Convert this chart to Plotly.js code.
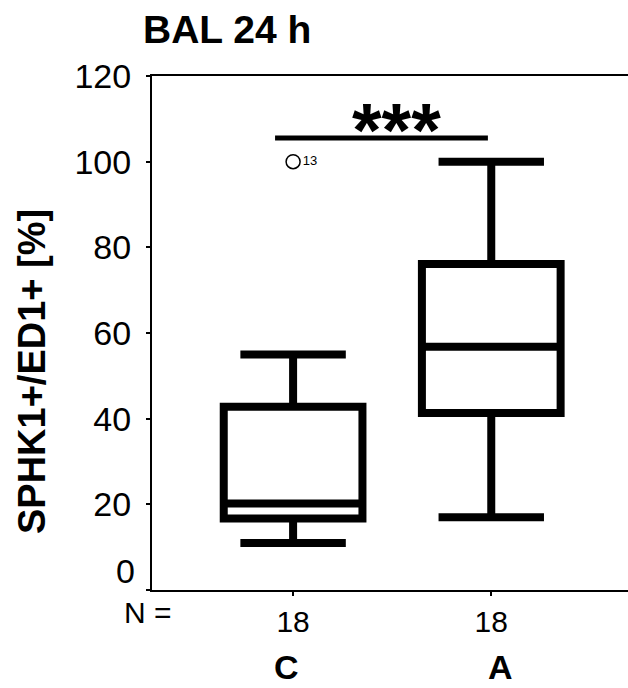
<!DOCTYPE html>
<html>
<head>
<meta charset="utf-8">
<script src="https://cdn.plot.ly/plotly-3.0.1.min.js"></script>
<style>
  html, body { margin: 0; padding: 0; background: #fff; }
  #chart { width: 628px; height: 688px; }
</style>
</head>
<body>
<div id="chart"></div>
<script>
// ---- data ----
const categories   = ['C', 'A'];
const nCounts      = ['18', '18'];
const lowerWhisker = [11, 17];
const q1           = [16.7, 41.3];
const medians      = [20.2, 56.8];
const q3           = [42.8, 76.1];
const upperWhisker = [55, 100];
const outlierCat   = ['C'];
const outlierVal   = [100];
const outlierLabel = ['13'];
const sigFrom      = ['C'];
const sigTo        = ['A'];
const sigLevel     = [105.5];
const sigText      = ['***'];
const yTicks       = [0, 20, 40, 60, 80, 100, 120];

// category -> numeric position on x axis
const pos = categories.map((c, i) => i);
const posOf = c => categories.indexOf(c);

const FONT = 'Liberation Sans, Arial, sans-serif';

const traces = [
  {
    type: 'box',
    x: pos,
    q1: q1,
    median: medians,
    q3: q3,
    lowerfence: lowerWhisker,
    upperfence: upperWhisker,
    width: 0.70,
    whiskerwidth: 0.76,
    fillcolor: '#ffffff',
    line: { color: '#000000', width: 8 },
    boxpoints: false,
    hoverinfo: 'skip',
    showlegend: false
  },
  {
    type: 'scatter',
    mode: 'markers+text',
    x: outlierCat.map(posOf),
    y: outlierVal,
    text: outlierLabel,
    textposition: 'middle right',
    textfont: { family: FONT, size: 13, color: '#000' },
    marker: { symbol: 'circle-open', size: 14, color: '#000', line: { width: 1.5, color: '#000' } },
    cliponaxis: false,
    showlegend: false,
    hoverinfo: 'skip'
  },
  {
    // significance bar drawn through the axes
    type: 'scatter',
    mode: 'lines',
    x: [posOf(sigFrom[0]) - 0.091, posOf(sigTo[0]) - 0.017],
    y: [sigLevel[0], sigLevel[0]],
    line: { color: '#000', width: 5 },
    showlegend: false,
    hoverinfo: 'skip'
  }
];

// the lowest tick label sits above the axis corner in the reference
const yTickText = yTicks.map(v => (v === yTicks[0] ? '' : String(v)));

const annotations = [
  {
    text: String(yTicks[0]),
    xref: 'paper', yref: 'y',
    x: -0.0315, y: yTicks[0],
    xanchor: 'right', yanchor: 'middle',
    yshift: 19,
    showarrow: false,
    font: { family: FONT, size: 34, color: '#000' }
  },
  {
    text: 'SPHK1+/ED1+ [%]',
    xref: 'paper', yref: 'paper',
    x: -0.2521, y: 0.424,
    xanchor: 'center', yanchor: 'middle',
    textangle: -90,
    showarrow: false,
    font: { family: FONT, size: 38, color: '#000', weight: 'bold' }
  },
  {
    text: 'N =',
    xref: 'paper', yref: 'paper',
    x: -0.008, y: -0.0437,
    xanchor: 'center', yanchor: 'middle',
    showarrow: false,
    font: { family: FONT, size: 30, color: '#000' }
  },
  {
    text: sigText[0],
    xref: 'x', yref: 'y',
    x: (posOf(sigFrom[0]) + posOf(sigTo[0])) / 2 + 0.024,
    y: sigLevel[0],
    xanchor: 'center', yanchor: 'bottom',
    yshift: -36,
    showarrow: false,
    font: { family: FONT, size: 76, color: '#000', weight: 'bold' }
  }
];
categories.forEach((c, i) => {
  annotations.push({
    text: c,
    xref: 'x', yref: 'paper',
    x: pos[i], y: -0.1499,
    xshift: i === 0 ? -7 : 9,
    xanchor: 'center', yanchor: 'middle',
    showarrow: false,
    font: { family: FONT, size: 34, color: '#000', weight: 'bold' }
  });
});

const layout = {
  width: 628,
  height: 688,
  margin: { l: 152, r: 0, t: 76, b: 98 },
  paper_bgcolor: '#ffffff',
  plot_bgcolor: '#ffffff',
  font: { family: FONT, color: '#000' },
  title: {
    text: '<b>BAL 24 h</b>',
    xref: 'container', yref: 'container',
    x: 143 / 628, xanchor: 'left',
    y: 1 - 29 / 688, yanchor: 'middle',
    font: { family: FONT, size: 39, color: '#000' }
  },
  xaxis: {
    range: [-0.712, 1.69],
    tickmode: 'array',
    tickvals: pos,
    ticktext: nCounts,
    ticks: 'outside',
    ticklen: 4,
    tickwidth: 2,
    tickcolor: '#000',
    showline: true,
    linecolor: '#000',
    linewidth: 2,
    mirror: true,
    showgrid: false,
    zeroline: false,
    ticklabelstandoff: 0,
    tickfont: { family: FONT, size: 30, color: '#000' },
    fixedrange: true
  },
  yaxis: {
    range: [0, 120],
    tickmode: 'array',
    tickvals: yTicks,
    ticktext: yTickText,
    ticks: 'outside',
    ticklen: 4,
    tickwidth: 2,
    tickcolor: '#000',
    showline: true,
    linecolor: '#000',
    linewidth: 2,
    showgrid: false,
    zeroline: false,
    ticklabelstandoff: 8,
    tickfont: { family: FONT, size: 34, color: '#000' },
    fixedrange: true
  },
  annotations: annotations,
  showlegend: false
};

Plotly.newPlot('chart', traces, layout, { staticPlot: true, displayModeBar: false });
</script>
</body>
</html>
